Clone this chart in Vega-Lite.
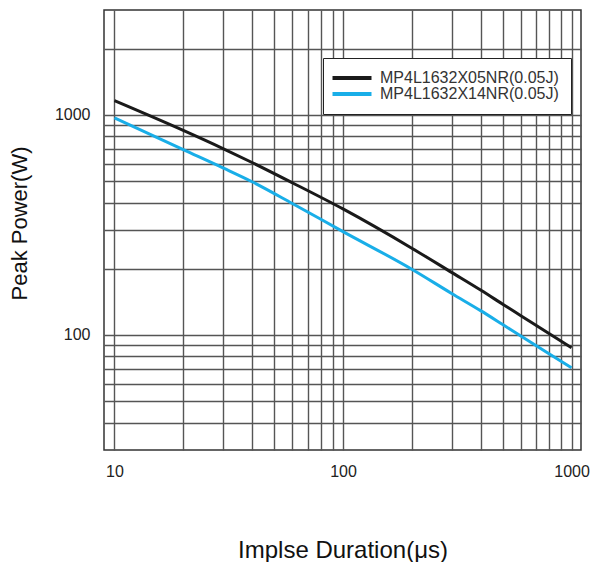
{
  "$schema": "https://vega.github.io/schema/vega-lite/v6.json",
  "autosize": {"type": "none"},
  "padding": {"left": 104, "top": 10, "right": 17, "bottom": 112},
  "width": 477,
  "height": 440,
  "background": "white",
  "config": {
    "view": {"stroke": "#333333", "strokeWidth": 1.5},
    "font": "Liberation Sans"
  },
  "data": {
    "values": [
      {"series": "MP4L1632X05NR(0.05J)", "t": 10, "p": 1162},
      {"series": "MP4L1632X05NR(0.05J)", "t": 20, "p": 851},
      {"series": "MP4L1632X05NR(0.05J)", "t": 30, "p": 702},
      {"series": "MP4L1632X05NR(0.05J)", "t": 40, "p": 608},
      {"series": "MP4L1632X05NR(0.05J)", "t": 60, "p": 492},
      {"series": "MP4L1632X05NR(0.05J)", "t": 100, "p": 374},
      {"series": "MP4L1632X05NR(0.05J)", "t": 200, "p": 248},
      {"series": "MP4L1632X05NR(0.05J)", "t": 300, "p": 192},
      {"series": "MP4L1632X05NR(0.05J)", "t": 400, "p": 160},
      {"series": "MP4L1632X05NR(0.05J)", "t": 500, "p": 138},
      {"series": "MP4L1632X05NR(0.05J)", "t": 600, "p": 122.4},
      {"series": "MP4L1632X05NR(0.05J)", "t": 800, "p": 101.3},
      {"series": "MP4L1632X05NR(0.05J)", "t": 1000, "p": 87.4},
      {"series": "MP4L1632X14NR(0.05J)", "t": 10, "p": 969},
      {"series": "MP4L1632X14NR(0.05J)", "t": 20, "p": 695},
      {"series": "MP4L1632X14NR(0.05J)", "t": 30, "p": 573},
      {"series": "MP4L1632X14NR(0.05J)", "t": 40, "p": 497},
      {"series": "MP4L1632X14NR(0.05J)", "t": 60, "p": 396},
      {"series": "MP4L1632X14NR(0.05J)", "t": 100, "p": 295},
      {"series": "MP4L1632X14NR(0.05J)", "t": 200, "p": 199},
      {"series": "MP4L1632X14NR(0.05J)", "t": 300, "p": 154},
      {"series": "MP4L1632X14NR(0.05J)", "t": 400, "p": 129},
      {"series": "MP4L1632X14NR(0.05J)", "t": 500, "p": 111.5},
      {"series": "MP4L1632X14NR(0.05J)", "t": 600, "p": 98.9},
      {"series": "MP4L1632X14NR(0.05J)", "t": 800, "p": 82},
      {"series": "MP4L1632X14NR(0.05J)", "t": 1000, "p": 71}
    ]
  },
  "mark": {"type": "line", "strokeWidth": 3, "interpolate": "monotone"},
  "encoding": {
    "x": {
      "field": "t",
      "type": "quantitative",
      "scale": {"type": "log", "domain": [9, 1100], "nice": false},
      "axis": {
        "title": "Implse Duration(μs)",
        "titleFontSize": 24,
        "titleFontWeight": "normal",
        "titleColor": "#111111",
        "titleBaseline": "alphabetic",
        "titleY": 107,
        "values": [10, 20, 30, 40, 50, 60, 70, 80, 90, 100, 200, 300, 400, 500, 600, 700, 800, 900, 1000],
        "format": "d",
        "labelExpr": "datum.value == 10 || datum.value == 100 || datum.value == 1000 ? datum.label : ''",
        "labelFontSize": 16,
        "labelColor": "#222222",
        "labelPadding": 13,
        "labelFlush": false,
        "labelOverlap": false,
        "ticks": false,
        "tickSize": 0,
        "domain": false,
        "grid": true,
        "gridColor": "#555555",
        "gridWidth": 1.4
      }
    },
    "y": {
      "field": "p",
      "type": "quantitative",
      "scale": {"type": "log", "domain": [30, 3000], "nice": false},
      "axis": {
        "title": "Peak Power(W)",
        "titleFontSize": 22,
        "titleFontWeight": "normal",
        "titleColor": "#111111",
        "titleBaseline": "alphabetic",
        "titleX": -78,
        "titleY": 213,
        "values": [40, 50, 60, 70, 80, 90, 100, 200, 300, 400, 500, 600, 700, 800, 900, 1000, 2000],
        "format": "d",
        "labelExpr": "datum.value == 100 || datum.value == 1000 ? datum.label : ''",
        "labelFontSize": 16,
        "labelColor": "#222222",
        "labelPadding": 14,
        "labelFlush": false,
        "labelOverlap": false,
        "ticks": false,
        "tickSize": 0,
        "domain": false,
        "grid": true,
        "gridColor": "#555555",
        "gridWidth": 1.4
      }
    },
    "color": {
      "field": "series",
      "type": "nominal",
      "scale": {
        "domain": ["MP4L1632X05NR(0.05J)", "MP4L1632X14NR(0.05J)"],
        "range": ["#1a1a1a", "#19aee8"]
      },
      "legend": {
        "title": null,
        "orient": "none",
        "legendX": 219,
        "legendY": 48,
        "symbolType": "M-4,0L4,0",
        "symbolSize": 95,
        "symbolStrokeWidth": 4,
        "symbolOffset": 9,
        "labelFontSize": 16,
        "labelColor": "#333333",
        "labelOffset": 20,
        "labelLimit": 0,
        "rowPadding": -3,
        "padding": 12,
        "fillColor": "white",
        "strokeColor": "#222222"
      }
    }
  }
}
